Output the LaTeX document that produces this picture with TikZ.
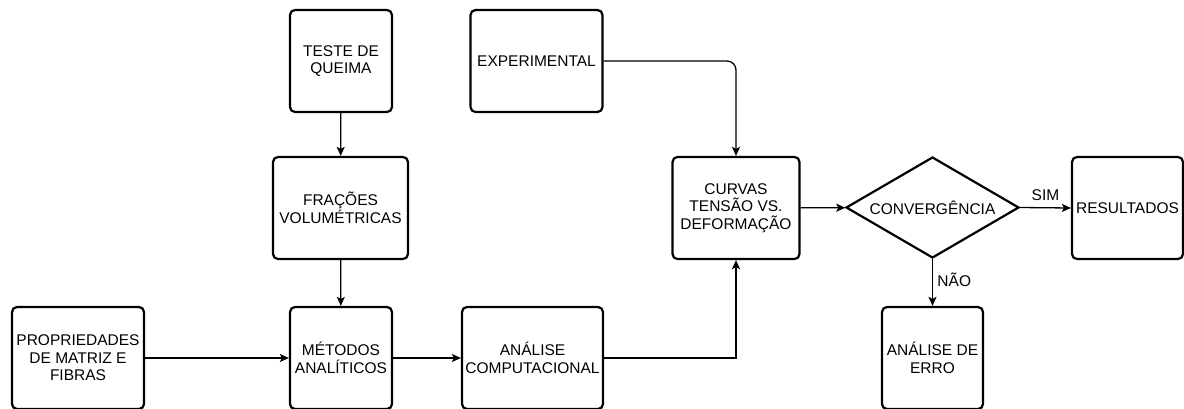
\documentclass[tikz,border=0pt]{standalone}
\usepackage{fontspec}
\setmainfont{Liberation Sans}
\usetikzlibrary{arrows.meta}
\usetikzlibrary{shapes.geometric}

\begin{document}
\begin{tikzpicture}[x=1pt,y=-1pt,
  box/.style={draw=black,rectangle,rounded corners=5pt,line width=2.2pt,
    align=center,inner sep=2pt,minimum height=102pt,
    font=\fontsize{15.5}{17.5}\selectfont},
  decision/.style={draw=black,diamond,line width=2.2pt,inner sep=0pt,
    minimum width=173pt,minimum height=101pt,aspect=1.7,
    font=\fontsize{15.5}{17.5}\selectfont},
  link/.style={line width=1.3pt,-{Stealth[length=9pt,width=8pt,inset=2pt]}},
  lbl/.style={font=\fontsize{15.5}{17.5}\selectfont}]
  \useasboundingbox (0,0) rectangle (1184,408);
  \node[box,minimum width=102pt] (queima) at (341,61) {TESTE DE\\QUEIMA};
  \node[box,minimum width=135pt] (fracoes) at (340.5,208) {FRAÇÕES\\VOLUMÉTRICAS};
  \node[box,minimum width=132pt] (propr) at (78,358) {PROPRIEDADES\\DE MATRIZ E\\FIBRAS};
  \node[box,minimum width=102pt] (metodos) at (341,358) {MÉTODOS\\ANALÍTICOS};
  \node[box,minimum width=141pt] (comput) at (532.5,358) {ANÁLISE\\COMPUTACIONAL};
  \node[box,minimum width=132pt] (experim) at (536.5,61) {EXPERIMENTAL};
  \node[box,minimum width=127pt] (curvas) at (736,208) {CURVAS\\TENSÃO VS.\\DEFORMAÇÃO};
  \node[decision] (conv) at (932.5,207.5) {CONVERGÊNCIA};
  \node[box,minimum width=111pt] (result) at (1127.5,208) {RESULTADOS};
  \node[box,minimum width=101pt] (erro) at (932.5,358) {ANÁLISE DE\\ERRO};

  \draw[link] (queima) -- (fracoes);
  \draw[link] (fracoes) -- (metodos);
  \draw[link] (propr) -- (metodos);
  \draw[link] (metodos) -- (comput);
  \draw[link] (comput.east) -| (curvas.south);
  \draw[link,rounded corners=9pt] (experim.east) -| (curvas.north);
  \draw[link] (curvas) -- (conv);
  \draw[link] (conv.east) -- node[lbl,above=3pt] {SIM} (result.west);
  \draw[link] (conv.south) -- node[lbl,right=1pt,pos=0.45] {NÃO} (erro.north);
\end{tikzpicture}
\end{document}
